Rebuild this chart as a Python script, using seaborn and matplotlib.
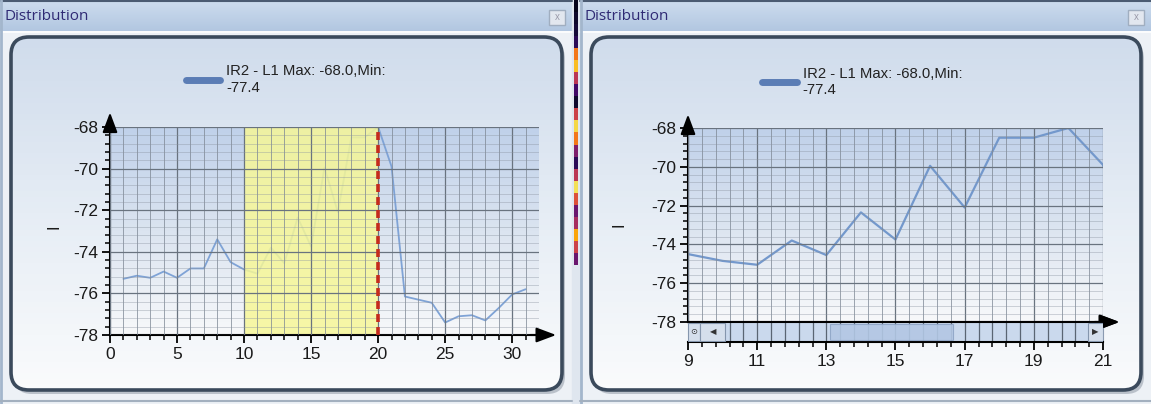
import numpy as np
import pandas as pd
import seaborn as sns
import matplotlib.pyplot as plt
from matplotlib.patches import FancyBboxPatch, Rectangle
from matplotlib.colors import LinearSegmentedColormap
from matplotlib.ticker import MultipleLocator

# Valores (leitura do sinal IR2 - L1)
indices = list(range(1, 32))
valores = [-75.3, -75.15, -75.25, -74.95, -75.25, -74.8, -74.8, -73.4, -74.5, -74.85,
           -75.05, -73.8, -74.55, -72.35, -73.75, -69.95, -72.1, -68.5, -68.5, -68.0,
           -69.9, -76.15, -76.3, -76.45, -77.4, -77.1, -77.05, -77.3, -76.7, -76.05, -75.8]
titulo = "Distribution"
legenda = "IR2 - L1 Max: -68.0,Min:\n-77.4"
faixa = (10, 20)
marcador = 20
lim_esq = (0, 32)
lim_dir = (9, 21)
lim_y = (-78, -68)

df = pd.DataFrame({"x": indices, "valor": valores})

sns.set_style("white")
plt.rcParams['font.family'] = ['Liberation Sans', 'DejaVu Sans']
plt.rcParams['axes.unicode_minus'] = False

W, H = 1151, 404
fig = plt.figure(figsize=(W / 100, H / 100), dpi=100)
bg = fig.add_axes([0, 0, 1, 1])
bg.axis('off')

def px(l, t, r, b):
    return [l / W, 1 - b / H, (r - l) / W, (b - t) / H]

grad = np.linspace(0, 1, 64).reshape(-1, 1)
cm_titulo = LinearSegmentedColormap.from_list("t", ["#cddcee", "#b2c7e1"])
cm_painel = LinearSegmentedColormap.from_list("p", ["#d0dcec", "#e6edf5", "#fafbfc"])
cm_plot = LinearSegmentedColormap.from_list("g", ["#c0d1ea", "#dbe4f0", "#f7f8fa"])

def janela(x0, x1):
    bg.add_patch(Rectangle((x0, 0), x1 - x0, H, color="#edf1f6", zorder=0))
    bg.imshow(grad, extent=(x0, x1, 31, 1), cmap=cm_titulo, aspect='auto', zorder=1)
    bg.plot([x0, x1], [0.8, 0.8], color="#4b5b72", lw=1.5, zorder=2)
    bg.plot([x0, x1], [31.5, 31.5], color="white", lw=1.2, zorder=2)
    bg.plot([x0 + 1, x0 + 1], [0, H], color="#a3b6cc", lw=2, zorder=2)
    bg.plot([x0, x1], [H - 3, H - 3], color="#a3b0bf", lw=1.5, zorder=2)
    bg.text(x0 + 5, 17, titulo, color="#2f2a74", fontsize=11, va='center',
            family=['Open Sans', 'DejaVu Sans'], zorder=3)
    # botão fechar
    bg.add_patch(Rectangle((x1 - 23, 10), 16, 15, facecolor="#e2e7ef",
                           edgecolor="#a0aec0", lw=1, zorder=3))
    bg.text(x1 - 15, 17.5, "x", color="#9a9aaa", fontsize=7, ha='center', va='center', zorder=4)
    # painel arredondado
    l, t, r, b = x0 + 11, 37, x1 - 10, 390
    sombra = FancyBboxPatch((l + 3, t + 4), r - l, b - t, boxstyle="round,pad=0,rounding_size=18",
                            facecolor="#7d8796", edgecolor="none", alpha=0.45, zorder=2)
    bg.add_patch(sombra)
    caixa = FancyBboxPatch((l, t), r - l, b - t, boxstyle="round,pad=0,rounding_size=18",
                           facecolor="none", edgecolor="#3b4a5c", lw=2.6, zorder=4)
    bg.add_patch(caixa)
    im = bg.imshow(grad, extent=(l, r, b, t), cmap=cm_painel, aspect='auto', zorder=3)
    im.set_clip_path(caixa)

janela(0, 572)
janela(580, W)

# faixa de separação entre as janelas
faixa_cores = np.array([0.05, 0.08, 0.1, 0.15, 0.7, 0.85, 0.5, 0.2, 0.08, 0.55, 0.9, 0.7,
                        0.35, 0.15, 0.5, 0.92, 0.6, 0.3, 0.45, 0.8, 0.55, 0.3]).reshape(-1, 1)
bg.add_patch(Rectangle((572, 0), 8, H, color="#dfe6ef", zorder=1))
bg.imshow(faixa_cores, extent=(574.5, 578.5, 265, 0), cmap="inferno", aspect='auto', zorder=2,
          vmin=0, vmax=1)
bg.set_xlim(0, W)
bg.set_ylim(H, 0)
bg.set_aspect('auto')

TAM = 12.5
seta = dict(arrowstyle='-|>,head_length=0.8,head_width=0.3', color='black', lw=1.5,
            mutation_scale=15, shrinkA=0, shrinkB=0)


def estilo(ax, xlim, loc_maj, loc_min, rotulo_xy):
    ax.set_xlim(*xlim)
    ax.set_ylim(*lim_y)
    ax.patch.set_alpha(0)
    ax.imshow(grad, extent=(xlim[0], xlim[1], lim_y[0], lim_y[1]), cmap=cm_plot,
              aspect='auto', zorder=0)
    ax.xaxis.set_major_locator(loc_maj)
    ax.xaxis.set_minor_locator(loc_min)
    ax.yaxis.set_major_locator(MultipleLocator(2))
    ax.yaxis.set_minor_locator(MultipleLocator(0.4))
    ax.grid(which='major', color="#69737f", lw=0.9)
    ax.xaxis.grid(which='minor', color="#7d8794", lw=0.7, alpha=0.75)
    ax.yaxis.grid(which='minor', color="#8a93a0", lw=0.6, alpha=0.45)
    ax.set_axisbelow(False)
    for s in ['top', 'right']:
        ax.spines[s].set_visible(False)
    for s in ['left', 'bottom']:
        ax.spines[s].set_color('black')
        ax.spines[s].set_linewidth(1.5)
    ax.tick_params(which='major', direction='out', length=6, width=1.3, color='black', pad=2.5,
                   labelsize=TAM, labelcolor="#1a1a1a", left=True, bottom=True)
    ax.tick_params(which='minor', direction='out', length=3.6, width=1.1, color='black',
                   left=True, bottom=True)
    ax.set_xlabel("")
    ax.set_ylabel("I", fontsize=12, color="#1a1a1a")
    ax.yaxis.set_label_coords(*rotulo_xy)
    ax.annotate('', xy=(0, 1.07), xytext=(0, 0.98), xycoords='axes fraction',
                arrowprops=seta, annotation_clip=False)
    ax.annotate('', xy=(1.04, 0), xytext=(0.98, 0), xycoords='axes fraction',
                arrowprops=seta, annotation_clip=False)


def legenda_topo(ax, x_rel):
    leg = ax.legend(loc='lower center', bbox_to_anchor=(x_rel, 1.12), frameon=False,
                    fontsize=10.7, handlelength=2.3, handletextpad=0.4, borderpad=0)
    for linha in leg.get_lines():
        linha.set_linewidth(5)
        linha.set_color("#5b7db5")
    for txt in leg.get_texts():
        txt.set_color("#222222")


# gráfico da esquerda
ax1 = fig.add_axes(px(110, 127, 539, 335))
sns.lineplot(data=df, x="x", y="valor", ax=ax1, color="#7fa3d6", lw=1.3, label=legenda, zorder=1.5)
estilo(ax1, lim_esq, MultipleLocator(5), MultipleLocator(1), (-0.112, 0.52))
ax1.axvspan(*faixa, color="#f7f796", alpha=0.84, lw=0, zorder=2)
ax1.axvline(marcador, color="#c52a1c", lw=2.6, ls=(0, (2.2, 1.4)), zorder=4)
legenda_topo(ax1, 0.41)

# gráfico da direita (zoom)
ax2 = fig.add_axes(px(688, 128, 1103, 322))
sns.lineplot(data=df, x="x", y="valor", ax=ax2, color="#7398cc", lw=1.6, label=legenda, zorder=1.5)
estilo(ax2, lim_dir, MultipleLocator(2, offset=1), MultipleLocator(0.4, offset=0.2), (-0.147, 0.5))
ax2.tick_params(which='both', bottom=False, labelbottom=False)
legenda_topo(ax2, 0.42)

# barra de rolagem sob o gráfico da direita
ax3 = fig.add_axes(px(688, 322, 1103, 342))
ax3.set_xlim(*lim_dir)
ax3.set_ylim(0, 1)
ax3.set_facecolor("#cad9ed")
ax3.xaxis.set_major_locator(MultipleLocator(2, offset=1))
ax3.xaxis.set_minor_locator(MultipleLocator(0.4, offset=0.2))
ax3.set_yticks([])
ax3.grid(which='both', axis='x', color="#5a6573", lw=0.9)
for s in ['left', 'right']:
    ax3.spines[s].set_color("#8a9ab0")
for s in ['top', 'bottom']:
    ax3.spines[s].set_color('black')
    ax3.spines[s].set_linewidth(1.5)
ax3.tick_params(which='major', direction='out', length=6, width=1.3, color='black', pad=2.5,
                labelsize=TAM, labelcolor="#1a1a1a", bottom=True)
ax3.tick_params(which='minor', direction='out', length=3.6, width=1.1, color='black', bottom=True)
for x0, x1, simbolo in [(0.0, 0.03, "\u2299"), (0.03, 0.09, "\u25c0"), (0.964, 1.0, "\u25b6")]:
    ax3.add_patch(Rectangle((x0, 0.05), x1 - x0, 0.9, transform=ax3.transAxes,
                            facecolor="#d5dfec", edgecolor="#8596ad", lw=0.8, zorder=5))
    ax3.text((x0 + x1) / 2, 0.5, simbolo, transform=ax3.transAxes, ha='center', va='center',
             fontsize=6, color="#333333", family='DejaVu Sans', zorder=6)
ax3.add_patch(Rectangle((0.342, 0.1), 0.297, 0.8, transform=ax3.transAxes,
                        facecolor="#b3c7e4", edgecolor="#8fa5c6", lw=0.8, alpha=0.9, zorder=5))
ax3.annotate('', xy=(1.039, 1), xytext=(0.98, 1), xycoords='axes fraction',
             arrowprops=seta, annotation_clip=False)

plt.savefig("out.png", dpi=100)
